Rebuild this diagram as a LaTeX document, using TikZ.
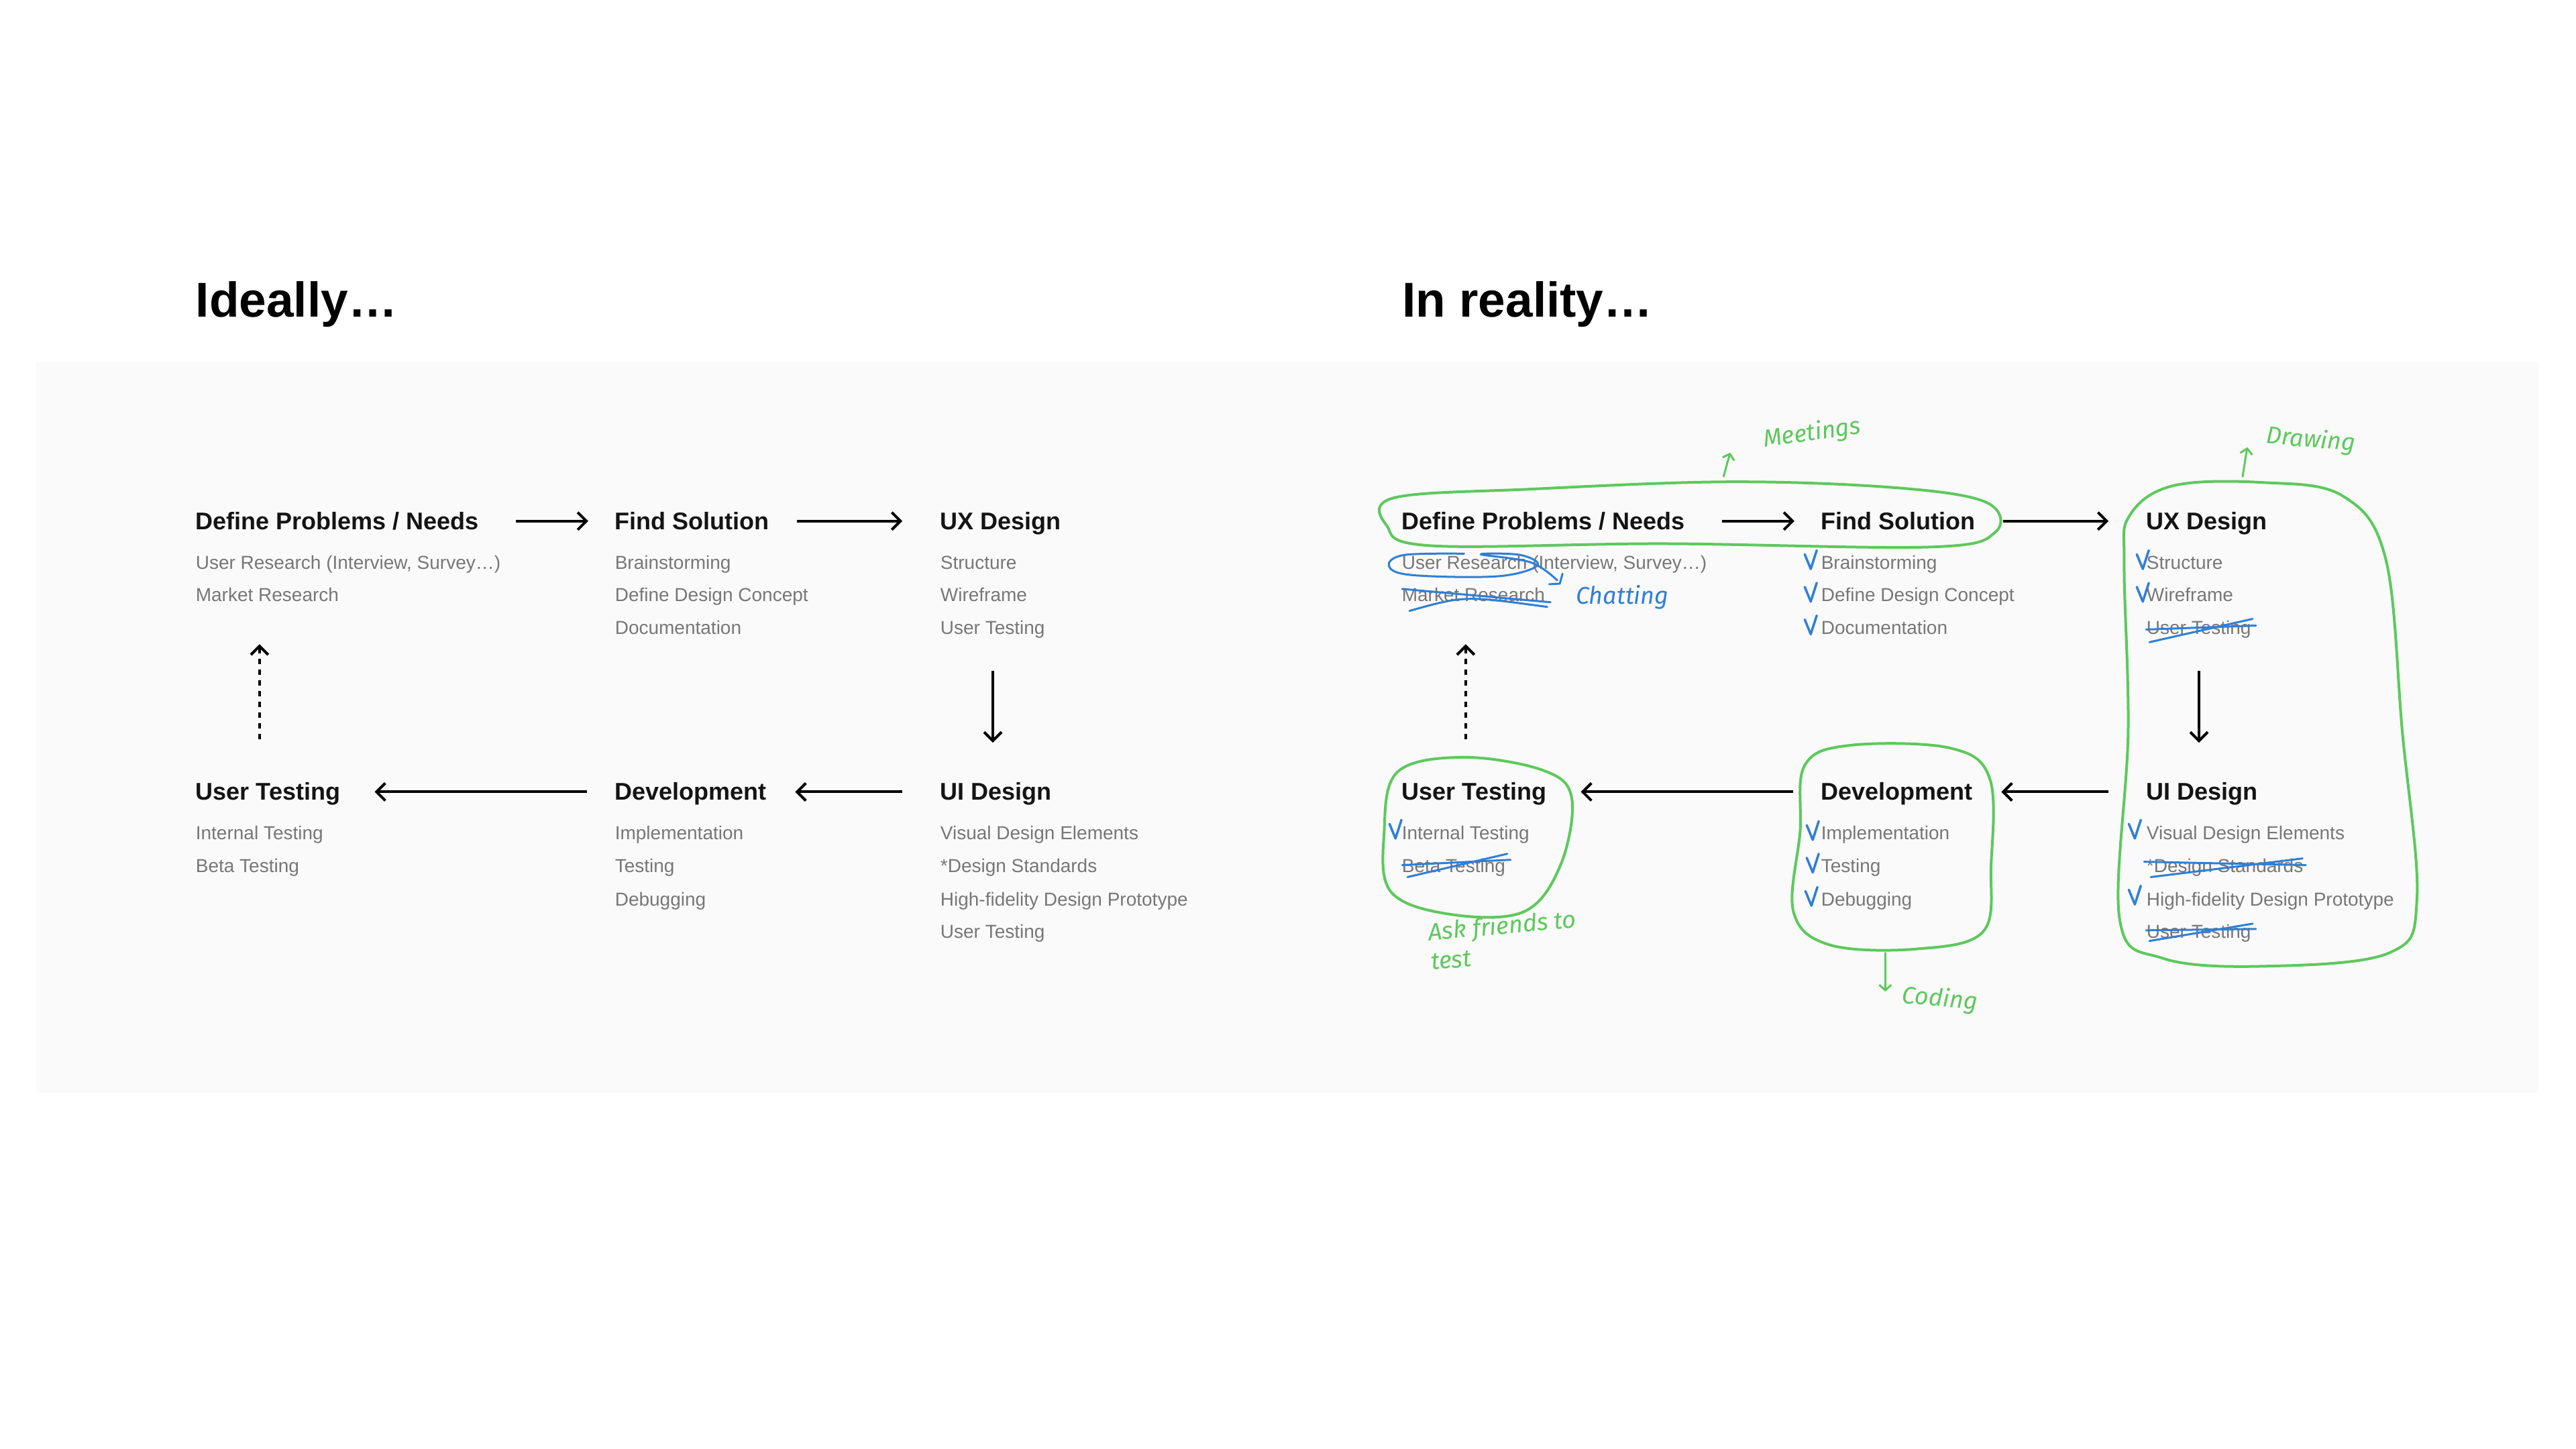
\documentclass[tikz,border=0pt]{standalone}
\usepackage{fontspec}
\setmainfont{Liberation Sans}
\newfontfamily\hand{Fira Sans}
\usetikzlibrary{arrows.meta}
\definecolor{hgreen}{HTML}{5CC95C}
\definecolor{hblue}{HTML}{2F7FD6}
\definecolor{itemgray}{HTML}{777777}
\definecolor{panel}{HTML}{FAFAFA}
\tikzset{
 hd/.style={anchor=base west,yshift=-12.5pt,inner sep=0,font=\fontsize{36}{44}\selectfont\bfseries,text=black!92},
 it/.style={anchor=base west,yshift=-10pt,inner sep=0,font=\fontsize{28}{34}\selectfont,text=itemgray},
 ttl/.style={anchor=west,inner sep=0,font=\fontsize{73}{86}\selectfont\bfseries},
 arr/.style={line width=4pt,-{Straight Barb[length=13pt,width=26pt,line width=4pt]}},
 gl/.style={hgreen,line width=4pt,line cap=round,line join=round},
 bl/.style={hblue,line width=4pt,line cap=round,line join=round},
 gtx/.style={inner sep=0,anchor=west,text=hgreen,font=\hand\itshape\fontsize{36}{44}\selectfont},
 btx/.style={inner sep=0,anchor=west,text=hblue,font=\hand\itshape\fontsize{36}{44}\selectfont},
}
\newcommand\myflow[2]{%
 \begin{scope}[xshift=#2]
 \node[hd] (#1d) at (294,783) {Define Problems / Needs};
 \node[hd] (#1f) at (924,783) {Find Solution};
 \node[hd] (#1x) at (1413,783) {UX Design};
 \node[hd] (#1t) at (294,1190) {User Testing};
 \node[hd] (#1v) at (924,1190) {Development};
 \node[hd] (#1u) at (1413,1190) {UI Design};
 \node[it] (#1d1) at (294,845) {User Research (Interview, Survey…)};
 \node[it] (#1d2) at (294,894) {Market Research};
 \node[it] (#1f1) at (924,845) {Brainstorming};
 \node[it] (#1f2) at (924,894) {Define Design Concept};
 \node[it] (#1f3) at (924,943) {Documentation};
 \node[it] (#1x1) at (1413,845) {Structure};
 \node[it] (#1x2) at (1413,894) {Wireframe};
 \node[it] (#1x3) at (1413,943) {User Testing};
 \node[it] (#1t1) at (294,1252) {Internal Testing};
 \node[it] (#1t2) at (294,1301) {Beta Testing};
 \node[it] (#1v1) at (924,1252) {Implementation};
 \node[it] (#1v2) at (924,1301) {Testing};
 \node[it] (#1v3) at (924,1351) {Debugging};
 \node[it] (#1u1) at (1413,1252) {Visual Design Elements};
 \node[it] (#1u2) at (1413,1301) {*Design Standards};
 \node[it] (#1u3) at (1413,1351) {High-fidelity Design Prototype};
 \node[it] (#1u4) at (1413,1400) {User Testing};
 \coordinate (#1da) at (775,783); \coordinate (#1fb) at (884,783);
 \draw[arr] (#1da) -- (#1fb);
 \coordinate (#1fa) at (1198,783); \coordinate (#1xc) at (1356,783);
 \draw[arr] (#1fa) -- (#1xc);
 \coordinate (#1ua) at (1356,1190); \coordinate (#1vb) at (1195,1190);
 \draw[arr] (#1ua) -- (#1vb);
 \coordinate (#1va) at (882,1190); \coordinate (#1tc) at (563,1190);
 \draw[arr] (#1va) -- (#1tc);
 \coordinate (#1xa) at (1492,1008); \coordinate (#1xb) at (1492,1116);
 \draw[arr] (#1xa) -- (#1xb);
 \coordinate (#1ta) at (390,1111); \coordinate (#1tb) at (390,968);
 \draw[arr,dash pattern=on 8pt off 8pt,line width=3.5pt] (#1ta) -- (#1tb);
 \end{scope}}
\newcommand\chk[2]{\draw[bl,line width=3.5pt] (#1-9,#2-12) -- (#1,#2+10) -- (#1+9,#2-18);}
\begin{document}
\begin{tikzpicture}[x=0.992pt,y=-0.992pt]
\useasboundingbox (0,0) rectangle (3871,2177);
\fill[white] (0,0) rectangle (3871,2177);
\fill[panel] (54,543) rectangle (3815,1642);
\node[ttl] (t1) at (294,457) {Ideally…};
\node[ttl] (t2) at (2107,457) {In reality…};
\myflow{L}{0pt}
\myflow{R}{1798pt}
% green loops
\draw[gl] plot[smooth cycle,tension=0.6] coordinates {(2095,748) (2300,735) (2600,724) (2850,733) (2985,755) (2998,800) (2900,822) (2500,817) (2150,820) (2084,790)};
\draw[gl] plot[smooth cycle,tension=0.6] coordinates {(3200,775) (3265,730) (3400,725) (3520,745) (3585,840) (3610,1100) (3632,1350) (3590,1432) (3400,1452) (3250,1440) (3185,1380) (3198,1100) (3192,850)};
\draw[gl] plot[smooth cycle,tension=0.6] coordinates {(2100,1160) (2200,1138) (2320,1158) (2362,1200) (2345,1300) (2290,1370) (2180,1374) (2090,1340) (2080,1250)};
\draw[gl] plot[smooth cycle,tension=0.6] coordinates {(2712,1150) (2780,1120) (2930,1124) (2990,1170) (2992,1300) (2980,1400) (2880,1426) (2750,1420) (2695,1370) (2705,1250)};
% green annotations
\coordinate (ma) at (2590,716); \coordinate (mb) at (2600,680);
\draw[gl,line width=3pt,-{Straight Barb[length=8pt,width=18pt]}] (ma) -- (mb);
\node[gtx,rotate=8] (meet) at (2650,662) {Meetings};
\coordinate (da) at (3370,716); \coordinate (db) at (3377,672);
\draw[gl,line width=3pt,-{Straight Barb[length=8pt,width=18pt]}] (da) -- (db);
\node[gtx,rotate=-5] (draw) at (3405,656) {Drawing};
\node[gtx,align=left,anchor=north west,rotate=5] (ask) at (2145,1385) {Ask friends to\\test};
\coordinate (ca) at (2833,1432); \coordinate (cb) at (2833,1490);
\draw[gl,line width=3pt,-{Straight Barb[length=8pt,width=18pt]}] (ca) -- (cb);
\node[gtx,rotate=-5] (cod) at (2858,1497) {Coding};
% blue annotations
\node[btx] (chat) at (2368,898) {Chatting};
\draw[bl,line width=3pt] plot[smooth,tension=0.6] coordinates {(2200,832) (2110,834) (2087,850) (2120,864) (2250,866) (2310,850) (2285,834) (2225,833) (2300,845) (2340,872)};
\draw[bl,line width=3pt] (2328,878) -- (2344,877) -- (2348,862);
\draw[bl,line width=3pt] (2107,885) -- (2330,905);
\draw[bl,line width=3pt] (2118,918) .. controls (2200,895) .. (2325,912);
\draw[bl,line width=3pt] (3225,946) -- (3390,940);
\draw[bl,line width=3pt] (3230,965) -- (3385,930);
\draw[bl,line width=3pt] (2107,1300) -- (2270,1292);
\draw[bl,line width=3pt] (2115,1318) -- (2265,1283);
\draw[bl,line width=3pt] (3222,1295) -- (3465,1300);
\draw[bl,line width=3pt] (3232,1318) -- (3460,1290);
\draw[bl,line width=3pt] (3225,1398) -- (3390,1396);
\draw[bl,line width=3pt] (3230,1414) -- (3385,1388);
\chk{2721}{845}\chk{2721}{894}\chk{2721}{943}
\chk{3220}{845}\chk{3220}{894}
\chk{2097}{1250}
\chk{2724}{1252}\chk{2724}{1301}\chk{2722}{1351}
\chk{3208}{1250}\chk{3208}{1349}
\end{tikzpicture}
\end{document}
